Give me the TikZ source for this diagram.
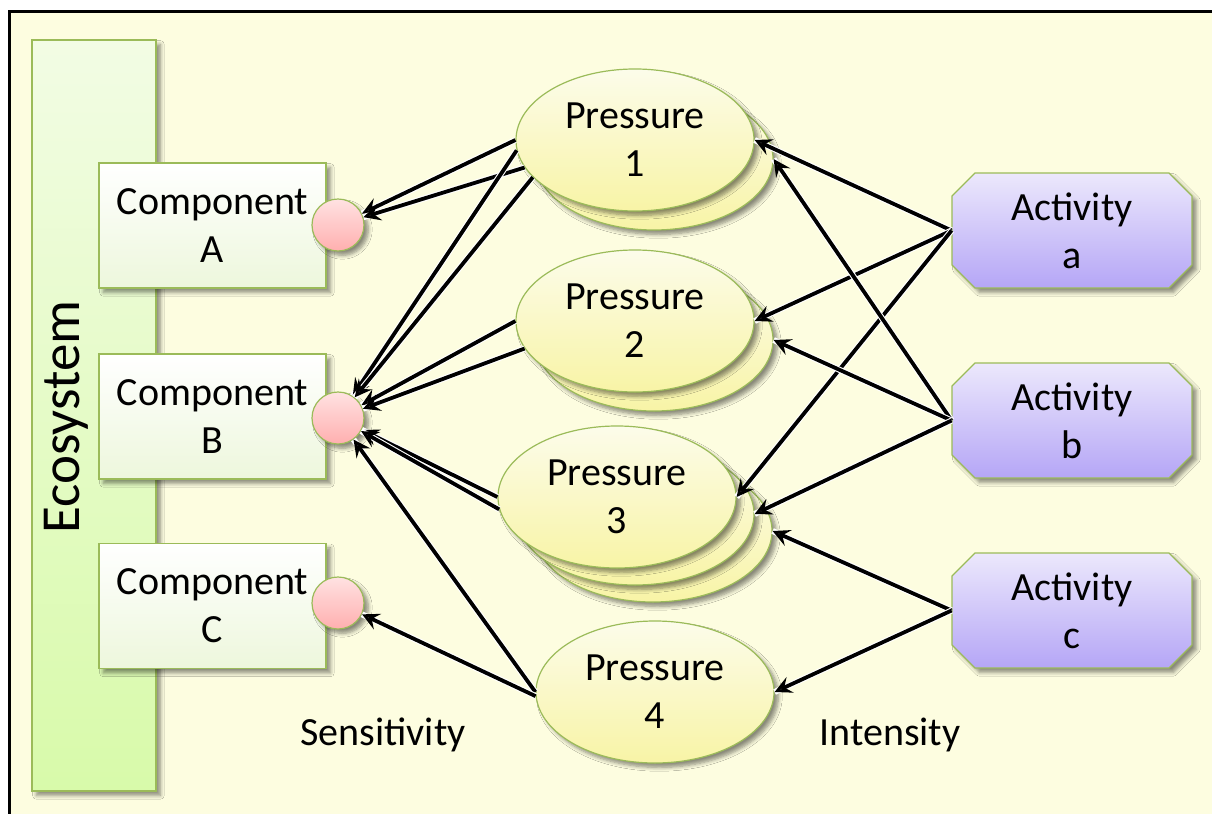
\documentclass[tikz,border=0pt]{standalone}
\usepackage{fontspec}
\setmainfont{Carlito}
\usetikzlibrary{shapes.geometric,arrows.meta,shadows.blur}
\definecolor{bgy}{HTML}{FDFDE0}
\definecolor{gline}{HTML}{9BBB59}
\definecolor{compb}{HTML}{EDF7DC}
\definecolor{ecot}{HTML}{F2FCE4}
\definecolor{ecob}{HTML}{D8FAAA}
\definecolor{dott}{HTML}{FFE2E2}
\definecolor{dotb}{HTML}{FFAFAF}
\definecolor{ellt}{HTML}{FCFCEA}
\definecolor{ellb}{HTML}{F8F4A6}
\definecolor{actt}{HTML}{ECE8FC}
\definecolor{actb}{HTML}{B5A6F6}
\begin{document}
\begin{tikzpicture}[x=0.5pt,y=-0.5pt,
  font=\fontsize{20}{24}\selectfont,
  shad/.style={blur shadow={shadow xshift=2.2pt,shadow yshift=-2.2pt,shadow blur steps=6,shadow opacity=45}},
  comp/.style={rectangle,draw=gline,line width=0.6pt,top color=white,bottom color=compb,
    minimum width=113.5pt,minimum height=62.5pt,align=center,inner sep=0pt,shad},
  dot/.style={circle,draw=gline,line width=0.6pt,top color=dott,bottom color=dotb,
    minimum size=26pt,inner sep=0pt,shad},
  ell/.style={ellipse,draw=gline,line width=0.6pt,top color=ellt,bottom color=ellb,
    minimum width=119pt,minimum height=71pt,inner sep=0pt,align=center,shad},
  act/.style={draw=gline,line width=0.6pt,top color=actt,bottom color=actb,shad},
  actn/.style={rectangle,minimum width=120pt,minimum height=57.5pt,inner sep=0pt,align=center},
  arr/.style={-{Stealth[length=8.5pt,width=8.5pt,inset=3.2pt]},line width=1.9pt,
    preaction={draw=white,line width=3pt,-}},
]
\useasboundingbox (0,0) rectangle (1212,814);
\fill[white] (0,0) rectangle (1212,814);
\fill[bgy] (9.5,11.5) rectangle (1212,814);
\draw[line width=1.8pt] (9.5,814) -- (9.5,11.5) -- (1212,11.5);
% Ecosystem bar
\path[draw=gline,line width=0.6pt,top color=ecot,bottom color=ecob,shad] (32,40) rectangle (156,791);
\node[rotate=90,anchor=base,font=\fontsize{27.5}{33}\selectfont] (eco) at (79,417) {Ecosystem};
% components
\node[comp] (compA) at (212.5,225.5) {Component\\A};
\node[comp] (compB) at (212.5,416.5) {Component\\B};
\node[comp] (compC) at (212.5,606) {Component\\C};
\node[dot] (dotA) at (338,225) {};
\node[dot] (dotB) at (338,418) {};
\node[dot] (dotC) at (338,603) {};
% pressures
\node[ell] (p1b) at (654,159) {};
\node[ell] (p1) at (635,140) {Pressure\\1};
\node[ell] (p2b) at (654,340) {};
\node[ell] (p2) at (635,321) {Pressure\\2};
\node[ell] (p3c) at (653,531) {};
\node[ell] (p3b) at (635,514) {};
\node[ell] (p3) at (617,497) {Pressure\\3};
\node[ell] (p4) at (655,692) {Pressure\\4};
% activities
\foreach \yy/\nm/\lt in {230.5/aa/a,420.5/ab/b,610.5/ac/c}{
  \path[act] (952,\yy-34.5) -- (975,\yy-57.5) -- (1169,\yy-57.5) -- (1192,\yy-34.5)
    -- (1192,\yy+34.5) -- (1169,\yy+57.5) -- (975,\yy+57.5) -- (952,\yy+34.5) -- cycle;
  \node[actn] (\nm) at (1072,\yy) {Activity\\\lt};
}
% labels
\node (sens) at (383,735) {Sensitivity};
\node (inten) at (890,735) {Intensity};
% sensitivity arrows
\draw[arr] (p1.180) -- (dotA);
\draw[arr] (p1.194) -- (dotA);
\draw[arr] (p1.185) -- (dotB);
\draw[arr] (p1.200) -- (dotB);
\draw[arr] (p2.180) -- (dotB);
\draw[arr] (p2.194) -- (dotB);
\draw[arr] (p3.180) -- (dotB);
\draw[arr] (p3.186) -- (dotB);
\draw[arr] (p4.180) -- (dotB);
\draw[arr] (p4.182) -- (dotC);
% intensity arrows
\draw[arr] (aa.west) -- (p1.0);
\draw[arr] (aa.west) -- (p2.0);
\draw[arr] (aa.west) -- (p3.0);
\draw[arr] (ab.west) -- (p1b.0);
\draw[arr] (ab.west) -- (p2b.0);
\draw[arr] (ab.west) -- (p3b.0);
\draw[arr] (ac.west) -- (p3c.0);
\draw[arr] (ac.west) -- (p4.0);
\end{tikzpicture}
\end{document}
